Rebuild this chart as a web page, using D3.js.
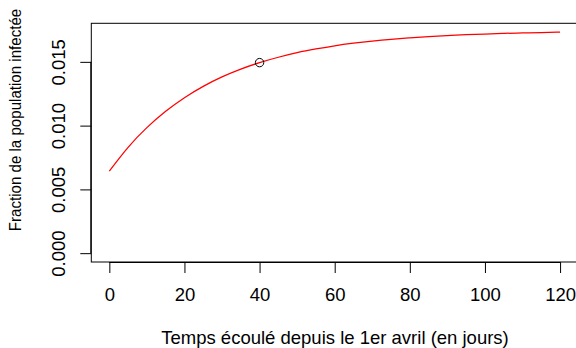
<!DOCTYPE html>
<html>
<head>
<meta charset="utf-8">
<script src="https://cdn.jsdelivr.net/npm/d3@7"></script>
<style>
  html, body { margin: 0; padding: 0; background: #fff; }
  svg { display: block; }
  text { font-family: "Liberation Sans", Arial, Helvetica, sans-serif; fill: #000; }
</style>
</head>
<body>
<svg id="chart" width="576" height="348"></svg>
<script>
// Days since 1 April
const days = [0, 5, 10, 15, 20, 25, 30, 35, 40, 45, 50, 55, 60, 65, 70, 75, 80, 85, 90, 95, 100, 105, 110, 115, 120];
// Fraction of population infected
const infected = [0.00644, 0.00830, 0.00984, 0.01112, 0.01219, 0.01308, 0.01382, 0.01443, 0.01494, 0.01536, 0.01572, 0.01601, 0.01626, 0.01646, 0.01663, 0.01677, 0.01688, 0.01698, 0.01706, 0.01713, 0.01718, 0.01723, 0.01727, 0.01730, 0.01733];
// Highlighted observation
const markDay = [40];
const markValue = [0.01494];
// Tick labels
const xTicks = [0, 20, 40, 60, 80, 100, 120];
const yTicks = [0.000, 0.005, 0.010, 0.015];
const xTitle = "Temps écoulé depuis le 1er avril (en jours)";
const yTitle = "Fraction de la population infectée";

const svg = d3.select("#chart");
const pL = 91.3, pR = 578.1, pT = 23.3, pB = 262;

const xmin = 0, xmax = 120;
const xpad = (xmax - xmin) * 0.04;
const x = d3.scaleLinear().domain([xmin - xpad, xmax + xpad]).range([pL, pR]);
const ymin = 0, ymax = d3.max(infected);
const ypad = (ymax - ymin) * 0.04;
const y = d3.scaleLinear().domain([ymin - ypad, ymax + ypad]).range([pB, pT]);

// curve
const line = d3.line().x((d, i) => x(days[i])).y(d => y(d)).curve(d3.curveNatural);
svg.append("path").datum(infected)
  .attr("d", line)
  .attr("fill", "none")
  .attr("stroke", "#ff0000")
  .attr("stroke-width", 1.25);

// point
svg.selectAll("circle.pt").data(markDay).enter().append("circle")
  .attr("class", "pt")
  .attr("cx", d => x(d))
  .attr("cy", (d, i) => y(markValue[i]))
  .attr("r", 4.2)
  .attr("fill", "none")
  .attr("stroke", "#000")
  .attr("stroke-width", 1);

// box
svg.append("rect")
  .attr("x", pL).attr("y", pT)
  .attr("width", pR - pL).attr("height", pB - pT)
  .attr("fill", "none").attr("stroke", "#000").attr("stroke-width", 1);

// x axis
const xAxis = d3.axisBottom(x).tickValues(xTicks).tickSize(11).tickFormat(d3.format("d"));
const gx = svg.append("g").attr("transform", `translate(0,${pB})`).call(xAxis);
gx.select(".domain").attr("d", `M${x(xTicks[0])},0.5H${x(xTicks[xTicks.length-1])}`).attr("stroke", "#000");
gx.selectAll(".tick line").attr("stroke", "#000");
gx.selectAll("text")
  .attr("font-size", 18.5)
  .attr("font-family", "Liberation Sans, Arial, sans-serif")
  .attr("fill", "#000")
  .attr("dy", null)
  .attr("y", 39);

// y axis
const yAxis = d3.axisLeft(y).tickValues(yTicks).tickSize(11).tickFormat(d3.format(".3f"));
const gy = svg.append("g").attr("transform", `translate(${pL},0)`).call(yAxis);
gy.select(".domain").attr("d", `M-0.5,${y(yTicks[0])}V${y(yTicks[yTicks.length-1])}`).attr("stroke", "#000");
gy.selectAll(".tick line").attr("stroke", "#000");
gy.selectAll("text")
  .attr("font-size", 18.5)
  .attr("font-family", "Liberation Sans, Arial, sans-serif")
  .attr("fill", "#000")
  .attr("x", null).attr("dy", null)
  .attr("text-anchor", "middle")
  .attr("transform", "translate(-26,0) rotate(-90)");

// axis titles
svg.append("text")
  .attr("x", 335).attr("y", 344)
  .attr("text-anchor", "middle").attr("font-size", 18.5)
  .text(xTitle);

svg.append("text")
  .attr("transform", `translate(20.5,120) scale(1.15,1) rotate(-90)`)
  .attr("text-anchor", "middle").attr("font-size", 15.1)
  .text(yTitle);
</script>
</body>
</html>
